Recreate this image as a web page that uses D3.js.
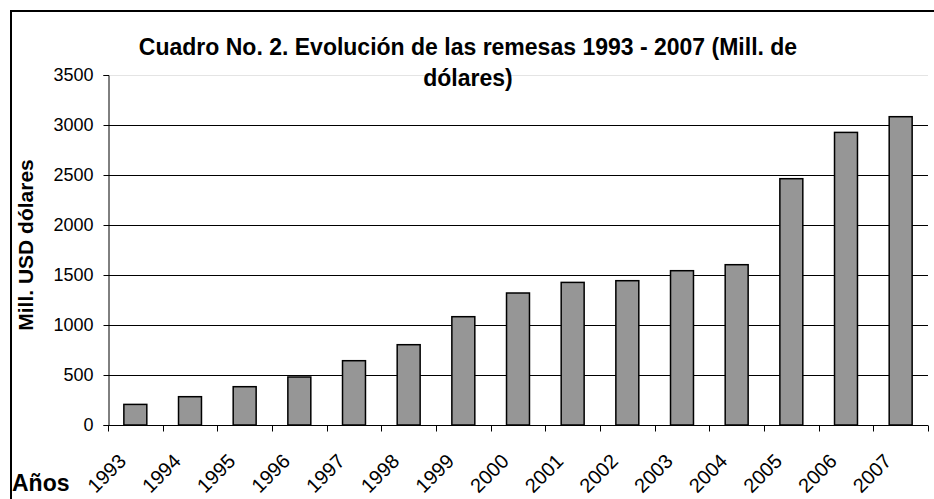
<!DOCTYPE html>
<html>
<head>
<meta charset="utf-8">
<script src="https://cdn.jsdelivr.net/npm/d3@7"></script>
<style>
  body { margin: 0; background: #fff; }
  text { font-family: "Liberation Sans", Arial, sans-serif; fill: #000; }
</style>
</head>
<body>
<div id="chart"></div>
<script>
// data
var years = ["1993", "1994", "1995", "1996", "1997", "1998", "1999", "2000",
  "2001", "2002", "2003", "2004", "2005", "2006", "2007"];
var remesas = [206, 283, 383, 480, 643, 803, 1083, 1320,
  1426, 1443, 1543, 1603, 2463, 2926, 3083];
var yTicks = [0, 500, 1000, 1500, 2000, 2500, 3000, 3500];

var titleLines = ["Cuadro No. 2. Evolución de las remesas 1993 - 2007 (Mill. de", "dólares)"];
var yLabel = "Mill. USD dólares";
var xLabel = "Años";

var svgWidth = 934;
var svgHeight = 499;

var margin = { top: 75, right: 6, bottom: 74, left: 108 };
var width = svgWidth - margin.left - margin.right;
var height = svgHeight - margin.top - margin.bottom;

var svg = d3.select("#chart")
  .append("svg")
  .attr("width", svgWidth)
  .attr("height", svgHeight);

// outer frame of the chart object
svg.append("rect")
  .attr("x", 11)
  .attr("y", 11)
  .attr("width", svgWidth + 20)
  .attr("height", svgHeight + 20)
  .attr("fill", "none")
  .attr("stroke", "#000")
  .attr("stroke-width", 2);

var chartGroup = svg.append("g")
  .attr("transform", `translate(${margin.left}, ${margin.top})`);

var pad = 0.58;
var xScale = d3.scaleBand()
  .domain(years)
  .range([0, width])
  .paddingInner(pad)
  .paddingOuter(pad / 2);

var yScale = d3.scaleLinear()
  .domain([0, 3500])
  .range([height, 0]);

// gridlines
chartGroup.selectAll(".grid")
  .data(yTicks.filter(d => d > 0))
  .enter()
  .append("line")
  .attr("x1", 0)
  .attr("x2", width)
  .attr("y1", d => Math.round(yScale(d)) + 0.5)
  .attr("y2", d => Math.round(yScale(d)) + 0.5)
  .attr("stroke", d => d === 3500 ? "#e4e4e4" : "#000")
  .attr("stroke-width", 1);

// bars
chartGroup.selectAll(".bar")
  .data(remesas)
  .enter()
  .append("rect")
  .attr("x", (d, i) => xScale(years[i]))
  .attr("y", d => yScale(d))
  .attr("width", xScale.bandwidth())
  .attr("height", d => height - yScale(d))
  .attr("fill", "#969696")
  .attr("stroke", "#000")
  .attr("stroke-width", 1.5);

// y axis
var leftAxis = d3.axisLeft(yScale)
  .tickValues(yTicks)
  .tickSize(5)
  .tickPadding(10)
  .tickFormat(d3.format("d"));

var yAxis = chartGroup.append("g")
  .attr("transform", "translate(0.5, 0)")
  .call(leftAxis);
yAxis.select(".domain").attr("stroke", "#000");
yAxis.selectAll(".tick line").attr("stroke", "#000");
yAxis.selectAll("text")
  .style("font-size", "18px")
  .style("font-family", "'Liberation Sans', Arial, sans-serif")
  .attr("fill", "#000");

// x axis: ticks between categories
var step = xScale.step();
var bounds = years.map(d => xScale(d) - (step - xScale.bandwidth()) / 2);
bounds.push(width);

var xAxis = chartGroup.append("g")
  .attr("transform", `translate(0, ${height + 0.5})`);
xAxis.append("line")
  .attr("x1", 0)
  .attr("x2", width)
  .attr("stroke", "#000");
xAxis.selectAll(".xtick")
  .data(bounds)
  .enter()
  .append("line")
  .attr("x1", d => Math.round(d) + 0.5)
  .attr("x2", d => Math.round(d) + 0.5)
  .attr("y1", 0)
  .attr("y2", 6)
  .attr("stroke", "#000");

xAxis.selectAll(".xlabel")
  .data(years)
  .enter()
  .append("text")
  .attr("text-anchor", "end")
  .attr("transform", d => `translate(${xScale(d) + xScale.bandwidth() / 2 - 8}, 37) rotate(-45)`)
  .style("font-size", "20px")
  .text(d => d);

// title
svg.append("g")
  .selectAll("text")
  .data(titleLines)
  .enter()
  .append("text")
  .attr("x", 468)
  .attr("y", (d, i) => 55 + i * 31)
  .attr("text-anchor", "middle")
  .style("font-size", "23px")
  .style("font-weight", "bold")
  .text(d => d);

// axis titles
svg.append("text")
  .attr("transform", `translate(33, ${margin.top + height / 2 - 5}) rotate(-90)`)
  .attr("text-anchor", "middle")
  .style("font-size", "21px")
  .style("font-weight", "bold")
  .text(yLabel);

svg.append("text")
  .attr("x", 12)
  .attr("y", 491)
  .style("font-size", "23px")
  .style("font-weight", "bold")
  .text(xLabel);
</script>
</body>
</html>
